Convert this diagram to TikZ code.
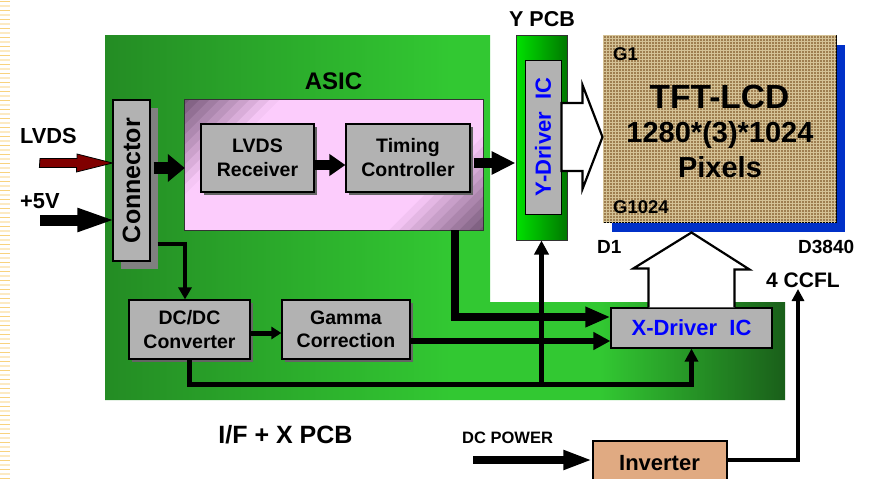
\documentclass[tikz,border=0pt]{standalone}
\usepackage{fontspec}
\setmainfont{Liberation Sans}
\usetikzlibrary{arrows.meta,calc,shadows,patterns}

\definecolor{boxgray}{RGB}{178,178,178}
\definecolor{shadowgray}{RGB}{100,100,100}
\definecolor{conshadow}{RGB}{128,128,128}
\definecolor{lcdblue}{RGB}{0,48,200}
\definecolor{burlap}{RGB}{158,126,80}
\definecolor{weave}{RGB}{212,194,150}
\definecolor{invfill}{RGB}{224,170,130}
\definecolor{drvblue}{RGB}{0,0,255}
\definecolor{lvred}{RGB}{128,0,0}
\definecolor{pcbA}{RGB}{36,140,36}
\definecolor{pcbB}{RGB}{50,200,50}
\definecolor{pcbC}{RGB}{26,95,26}
\definecolor{asicD}{RGB}{118,88,120}
\definecolor{asicL}{RGB}{252,204,252}
\definecolor{ypcbL}{RGB}{0,225,0}
\definecolor{ypcbR}{RGB}{0,120,0}
\definecolor{stripeA}{RGB}{248,210,125}
\definecolor{stripeB}{RGB}{252,234,195}

\pgfdeclarehorizontalshading{pcbshade}{100bp}{color(0bp)=(pcbA); color(25bp)=(pcbA); color(50.4bp)=(pcbB); color(61.4bp)=(pcbB); color(75bp)=(pcbC); color(100bp)=(pcbC)}

\newcommand\fsz[2]{\fontsize{#1}{#2}\selectfont}

\tikzset{
  box/.style={draw=black, line width=1.2pt, fill=boxgray, inner sep=0pt, align=center},
  smallshadow/.style={general shadow={fill=shadowgray, shadow xshift=3pt, shadow yshift=-3pt}},
  lbl/.style={inner sep=0pt, anchor=base},
  lblw/.style={inner sep=0pt, anchor=base west},
  hollow/.style={draw=black, fill=white, line width=2.2pt, line join=miter},
  wire/.style={draw=black, line join=miter}
}

\begin{document}
\begin{tikzpicture}[x=1pt, y=-1pt, font=\bfseries]
\useasboundingbox (0,0) rectangle (876,479);

% left stripes
\foreach \i in {0,...,106} {
  \pgfmathsetmacro\yy{\i*4.5+1.5}
  \ifodd\i \def\sc{stripeB}\else\def\sc{stripeA}\fi
  \draw[\sc, line width=1.4pt] (0,\yy) -- (10,\yy);
}

% green PCB (L shape)
\shade[shading=pcbshade] (105,35) -- (490,35) -- (490,302) -- (785,302) -- (785,400) -- (105,400) -- cycle;

% ASIC
\node[minimum width=298pt, minimum height=130pt, inner sep=0pt] (asic) at (334,165) {};
\begin{scope}
  \clip (asic.north west) rectangle (asic.south east);
  \foreach \i in {0,...,43} {
    \pgfmathsetmacro\s{\i*10}
    \pgfmathsetmacro\p{100*max(0,min(1,\s/95,(428-\s)/95))}
    \pgfmathsetmacro\xa{185+\s+300}
    \pgfmathsetmacro\xb{185+\s-300}
    \draw[asicL!\p!asicD, line width=8pt] (\xa,-200) -- (\xb,400);
  }
\end{scope}
\draw[black!80, line width=1pt] (asic.north west) rectangle (asic.south east);
\node[lbl, font=\bfseries\fsz{24}{28}] (asiclbl) at (333.5,89) {ASIC};

% Connector
\node[box, minimum width=37pt, minimum height=161pt, general shadow={fill=conshadow, shadow xshift=8pt, shadow yshift=-8pt}] (conn) at (131.5,180.5) {};
\node[rotate=90, inner sep=0pt, font=\bfseries\fsz{25}{30}] (conntxt) at (conn.center) {Connector};

% ASIC internal boxes
\node[box, smallshadow, minimum width=113pt, minimum height=68pt, font=\bfseries\fsz{19.5}{24}] (lrx) at (257.5,158) {LVDS\\Receiver};
\node[box, smallshadow, minimum width=124pt, minimum height=68pt, font=\bfseries\fsz{19.5}{24}] (tcon) at (408,158) {Timing\\Controller};

% DC/DC and gamma
\node[box, smallshadow, minimum width=121pt, minimum height=59pt, font=\bfseries\fsz{19.5}{23.5}] (dcdc) at (189.5,329.5) {DC/DC\\Converter};
\node[box, smallshadow, minimum width=128pt, minimum height=59pt, font=\bfseries\fsz{19.5}{23.5}] (gamma) at (346,329.5) {Gamma\\Correction};

% Y PCB
\node[draw=black!80, line width=1pt, left color=ypcbL, right color=ypcbR, minimum width=51pt, minimum height=205pt, inner sep=0pt] (ypcb) at (541.5,137.5) {};
\node[box, line width=1pt, minimum width=36pt, minimum height=154pt] (ydrv) at (543,137) {};
\node[rotate=90, inner sep=0pt, text=drvblue, font=\bfseries\fsz{22}{26}] (ydrvtxt) at (ydrv.center) {Y-Driver\ \ IC};
\node[lbl, font=\bfseries\fsz{21.5}{26}] (ypcblbl) at (542,27) {Y PCB};

% TFT-LCD
\node[draw=black, line width=1pt, fill=burlap, postaction={pattern=grid, pattern color=weave}, minimum width=233pt, minimum height=187pt, inner sep=0pt, general shadow={fill=lcdblue, shadow xshift=9pt, shadow yshift=-10pt}] (lcd) at (719.5,128.5) {};
\node[lblw, font=\bfseries\fsz{18.5}{22}] (g1) at (613,60) {G1};
\node[lbl, font=\bfseries\fsz{33.5}{40}] (tft) at (719.5,108) {TFT-LCD};
\node[lbl, font=\bfseries\fsz{29}{34}] (res) at (720,142) {1280*(3)*1024};
\node[lbl, font=\bfseries\fsz{29}{34}] (pix) at (720,177) {Pixels};
\node[lblw, font=\bfseries\fsz{18.5}{22}] (g1024) at (613,213) {G1024};
\node[lblw, font=\bfseries\fsz{19}{22}] (d1) at (597,253) {D1};
\node[lblw, font=\bfseries\fsz{19}{22}] (d3840) at (798,253) {D3840};
\node[lblw, font=\bfseries\fsz{21}{26}] (ccfllbl) at (766,287) {4 CCFL};

% X driver
\node[box, minimum width=161pt, minimum height=40pt, text=drvblue, font=\bfseries\fsz{22}{26}] (xdrv) at (691.5,328) {X-Driver\ \ IC};

% Inverter
\node[draw=black, line width=1.2pt, fill=invfill, minimum width=134pt, minimum height=50pt, inner sep=0pt] (inv) at (660,466) {};
\node[lbl, font=\bfseries\fsz{22}{26}] (invtxt) at (659.5,470) {Inverter};

% labels
\node[lblw, font=\bfseries\fsz{21.8}{26}] (lvdslbl) at (20,143) {LVDS};
\node[lblw, font=\bfseries\fsz{21.8}{26}] (p5lbl) at (20,208) {+5V};
\node[lbl, font=\bfseries\fsz{25}{30}] (iflbl) at (285.5,443) {I/F + X PCB};
\node[lblw, font=\bfseries\fsz{16.5}{20}] (dcplbl) at (462,443) {DC POWER};

% coordinates for free ends
\coordinate (lv) at (40,163);
\coordinate (p5) at (40,220);
\coordinate (dcp) at (473,460);
\coordinate (ccfl) at (798,289);
\coordinate (junc) at ($(dcdc.south)+(0,25)$);

% input arrows
\draw[fill=lvred, line width=0.8pt, line join=miter] (lv) ++(0,-4.5) -- ++(37,0) -- ++(0,-4.5) -- (lv -| conn.west) -- ++(-36,9) -- ++(0,-4.5) -- ++(-37,0) -- cycle;
\draw[wire, line width=11pt, -{Triangle[length=39pt,width=21pt]}] (p5) -- ([xshift=4pt]p5 -| conn.west);

% connector -> ASIC
\draw[wire, line width=12pt, -{Triangle[length=17pt,width=27pt]}] ([xshift=3pt,yshift=-3pt]conn.east |- asic.west) -- ([yshift=-3pt]asic.west);
% LVDS Rx -> Timing
\draw[wire, line width=10pt, -{Triangle[length=16pt,width=21pt]}] ([yshift=-7pt]lrx.east) -- ([yshift=-7pt]lrx.east -| tcon.west);
% Timing -> Y PCB
\draw[wire, line width=10pt, -{Triangle[length=24pt,width=22pt]}] ([xshift=3pt,yshift=-5pt]tcon.east) -- ([yshift=-5pt]tcon.east -| ypcb.west);
% connector -> DC/DC
\draw[wire, line width=4pt, -{Triangle[length=12pt,width=13pt]}] ($(conn.east)+(7,63.5)$) -| ([xshift=-4.5pt]dcdc.north);
% DC/DC -> Gamma
\draw[wire, line width=5pt, -{Triangle[length=10pt,width=12pt]}] ([yshift=-3.5pt]dcdc.east) -- ([yshift=-3.5pt]dcdc.east -| gamma.west);
% Gamma -> X driver
\draw[wire, line width=6pt, -{Triangle[length=17pt,width=17pt]}] ([yshift=-11.5pt]gamma.east) -- ([yshift=-11.5pt]gamma.east -| xdrv.west);
% ASIC -> X driver
\draw[wire, line width=8.5pt, -{Triangle[length=25pt,width=19pt]}] ([xshift=121pt]asic.south) |- ([yshift=11pt]xdrv.west);
% DC/DC -> X driver bottom
\draw[wire, line width=5pt, -{Triangle[length=13pt,width=13pt]}] (dcdc.south) -- (junc) -| (xdrv.south);
% branch -> Y PCB
\draw[wire, line width=5pt, -{Triangle[length=14pt,width=14pt]}] (junc -| ypcb.south) -- (ypcb.south);
% DC power -> inverter
\draw[wire, line width=8pt, -{Triangle[length=29pt,width=18pt]}] (dcp) -- (dcp -| inv.west);
% inverter -> CCFL
\draw[wire, line width=4pt, -{Triangle[length=12pt,width=12pt]}] (dcp -| inv.east) -| (ccfl);

% hollow arrows
\draw[hollow] ([yshift=34pt]ydrv.east) -- ++(21,0) -- ++(0,-18) -- (ydrv.east -| lcd.west) -- ([xshift=21pt,yshift=-52pt]ydrv.east) -- ++(0,-18) -- ([yshift=-34pt]ydrv.east) -- cycle;
\draw[hollow] ([xshift=-43pt]xdrv.north) -- ++(0,-39) -- ++(-15,0) -- ([yshift=-10pt]xdrv.north |- lcd.south) -- ++(58,37) -- ++(-15,0) -- ([xshift=43pt]xdrv.north);
\end{tikzpicture}
\end{document}
